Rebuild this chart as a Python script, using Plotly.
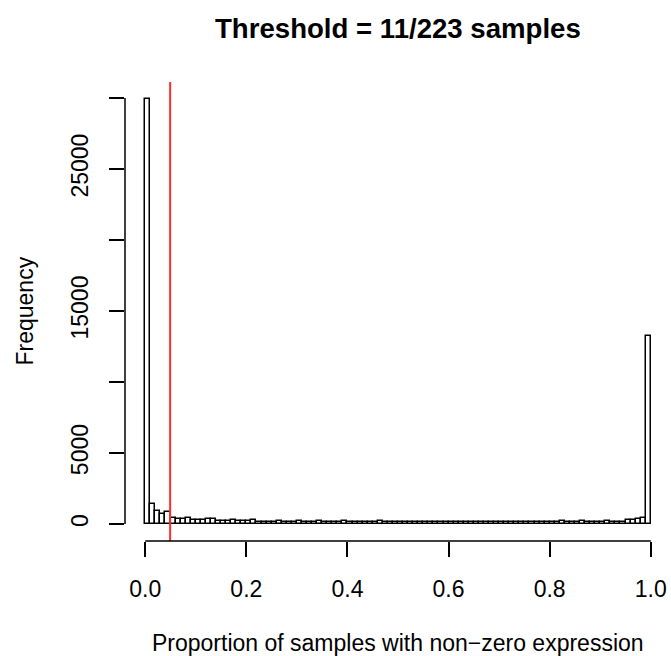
import plotly.graph_objects as go

# ---- data ----
bin_width = 0.01
bin_starts = [i / 100 for i in range(100)]
counts = [
    29930, 1390, 920, 690, 845, 445, 375, 350, 420, 285,
    305, 305, 350, 340, 215, 220, 215, 305, 215, 190,
    200, 260, 165, 170, 160, 155, 210, 150, 145, 150,
    205, 145, 140, 150, 200, 140, 135, 140, 130, 190,
    135, 130, 125, 135, 120, 125, 180, 120, 125, 115,
    120, 125, 160, 115, 120, 125, 155, 115, 120, 115,
    160, 120, 115, 125, 120, 115, 160, 120, 125, 160,
    155, 120, 125, 120, 115, 125, 120, 165, 120, 125,
    130, 125, 190, 130, 135, 140, 200, 140, 145, 150,
    150, 215, 150, 155, 155, 260, 255, 330, 450, 13270,
]
threshold = 11 / 223
x_ticks = [0.0, 0.2, 0.4, 0.6, 0.8, 1.0]
x_ticklabels = ["0.0", "0.2", "0.4", "0.6", "0.8", "1.0"]
y_ticks = [0, 5000, 10000, 15000, 20000, 25000, 30000]
y_ticklabels = ["0", "5000", "", "15000", "", "25000", ""]
title = "Threshold = 11/223 samples"
xlabel = "Proportion of samples with non\u2212zero expression"
ylabel = "Frequency"

# ---- layout constants ----
W, H = 671, 656
ML, MR, MT, MB = 125, 0, 82, 115
PH = H - MT - MB
PW = W - ML - MR
FONT = "Liberation Sans, Arial, Helvetica, sans-serif"
FS = 23


def py(p):
    return (H - MB - p) / PH


def px(p):
    return (p - ML) / PW


ymax = max(counts)
xmin, xmax = bin_starts[0], bin_starts[-1] + bin_width

fig = go.Figure()
fig.add_trace(go.Bar(
    x=[s + bin_width / 2 for s in bin_starts],
    y=counts,
    width=bin_width,
    marker=dict(color="white", line=dict(color="black", width=1.5)),
    showlegend=False,
    hoverinfo="skip",
))

shapes = [
    dict(type="line", xref="x", yref="paper", x0=threshold, x1=threshold,
         y0=0, y1=1, line=dict(color="#ff2a2a", width=2)),
    dict(type="line", xref="x", yref="paper", x0=x_ticks[0], x1=x_ticks[-1],
         y0=0, y1=0, line=dict(color="black", width=1.5)),
    dict(type="line", xref="paper", yref="y", x0=0, x1=0,
         y0=y_ticks[0], y1=y_ticks[-1], line=dict(color="black", width=1.5)),
]

annotations = [
    dict(text="<b>" + title + "</b>", xref="paper", yref="paper", x=0.5, y=py(29),
         xanchor="center", yanchor="middle", showarrow=False,
         font=dict(family=FONT, size=27.6, color="black")),
    dict(text=xlabel, xref="paper", yref="paper", x=0.5, y=py(643),
         xanchor="center", yanchor="middle", showarrow=False,
         font=dict(family=FONT, size=FS, color="black")),
    dict(text=ylabel, xref="paper", yref="paper", x=px(24), y=0.5, textangle=-90,
         xanchor="center", yanchor="middle", showarrow=False,
         font=dict(family=FONT, size=FS, color="black")),
]

fig.update_layout(
    width=W, height=H,
    margin=dict(l=ML, r=MR, t=MT, b=MB, pad=0),
    paper_bgcolor="white", plot_bgcolor="white",
    bargap=0,
    shapes=shapes,
    annotations=annotations,
    font=dict(family=FONT, size=FS, color="black"),
    xaxis=dict(
        range=[xmin - 0.04 * (xmax - xmin), xmax + 0.04 * (xmax - xmin)],
        tickvals=x_ticks, ticktext=x_ticklabels,
        ticks="outside", ticklen=15, tickwidth=1.5, tickcolor="black",
        showgrid=False, zeroline=False, showline=False,
        ticklabelstandoff=12,
        tickfont=dict(family=FONT, size=FS, color="black"),
    ),
    yaxis=dict(
        range=[-0.04 * ymax, 1.04 * ymax],
        tickvals=y_ticks, ticktext=y_ticklabels,
        ticks="outside", ticklen=15, tickwidth=1.5, tickcolor="black",
        tickangle=-90,
        showgrid=False, zeroline=False, showline=False,
        ticklabelstandoff=12,
        tickfont=dict(family=FONT, size=FS, color="black"),
    ),
)

fig.write_html("out.html")
